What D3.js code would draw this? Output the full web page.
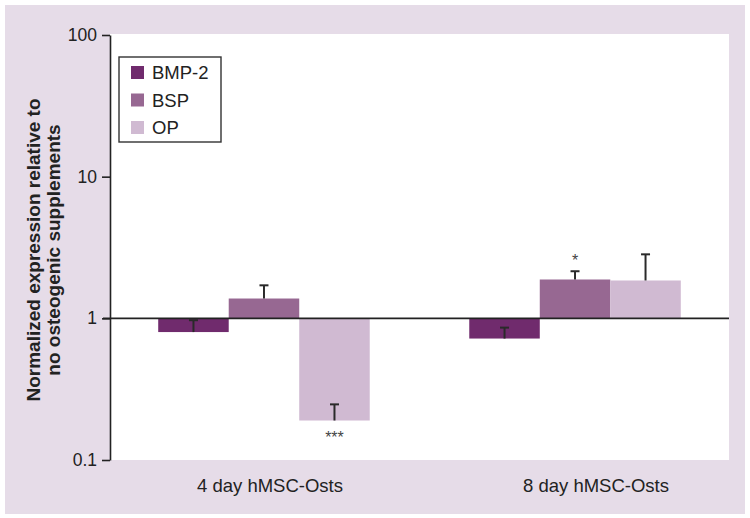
<!DOCTYPE html>
<html>
<head>
<meta charset="utf-8">
<script src="https://cdn.jsdelivr.net/npm/d3@7"></script>
<style>
  html, body { margin: 0; padding: 0; background: #ffffff; }
  svg { display: block; font-family: "Liberation Sans", Arial, Helvetica, sans-serif; }
</style>
</head>
<body>
<svg id="chart" width="750" height="518"></svg>
<script>
// ---- data ----
const categories = ["4 day hMSC-Osts", "8 day hMSC-Osts"];
const seriesNames = ["BMP-2", "BSP", "OP"];
const seriesColors = ["#702b6d", "#976892", "#d0bad2"];
const bmp2Values = [0.80, 0.72];
const bspValues = [1.38, 1.88];
const opValues = [0.19, 1.85];
const bmp2Upper = [0.97, 0.86];
const bspUpper = [1.71, 2.15];
const opUpper = [0.247, 2.83];
const bmp2Sig = ["", ""];
const bspSig = ["", "*"];
const opSig = ["***", ""];
const yTickValues = [0.1, 1, 10, 100];
const yTickLabels = ["0.1", "1", "10", "100"];
const yTitleLines = ["Normalized expression relative to", "no osteogenic supplements"];

const seriesValues = [bmp2Values, bspValues, opValues];
const seriesUpper = [bmp2Upper, bspUpper, opUpper];
const seriesSig = [bmp2Sig, bspSig, opSig];

const rows = [];
categories.forEach((c, ci) => {
  seriesNames.forEach((s, si) => {
    rows.push({cat: c, series: s, si, value: seriesValues[si][ci], upper: seriesUpper[si][ci], sig: seriesSig[si][ci]});
  });
});

// ---- layout ----
const svg = d3.select("#chart");
const plot = {left: 110, right: 729, top: 35, bottom: 460};

svg.append("rect").attr("x", 5).attr("y", 5).attr("width", 740).attr("height", 509).attr("fill", "#e6dce8");
svg.append("rect").attr("x", plot.left).attr("y", plot.top - 1).attr("width", plot.right - plot.left).attr("height", plot.bottom - plot.top + 1).attr("fill", "#ffffff");

const y = d3.scaleLog().domain([0.1, 100]).range([plot.bottom, plot.top]);
const x0 = d3.scaleBand().domain(categories).range([plot.left, plot.right]).paddingInner(0.32).paddingOuter(0.155);
const x1 = d3.scaleBand().domain(seriesNames).range([0, x0.bandwidth()]);
const labelX = d3.scalePoint().domain(categories).range([270, 596]);

// bars
const g = svg.append("g");
g.selectAll("rect.bar").data(rows).join("rect")
  .attr("class", "bar")
  .attr("x", d => x0(d.cat) + x1(d.series))
  .attr("width", x1.bandwidth())
  .attr("y", d => Math.min(y(d.value), y(1)))
  .attr("height", d => Math.abs(y(d.value) - y(1)))
  .attr("fill", d => seriesColors[d.si]);

// error bars (upper)
const capW = 9;
const cx = d => x0(d.cat) + x1(d.series) + x1.bandwidth() / 2;
const eb = g.selectAll("g.eb").data(rows).join("g").attr("class", "eb");
eb.append("line")
  .attr("x1", cx).attr("x2", cx)
  .attr("y1", d => y(d.value))
  .attr("y2", d => y(d.upper))
  .attr("stroke", "#2a2a2a").attr("stroke-width", 2);
eb.append("line")
  .attr("x1", d => cx(d) - capW / 2)
  .attr("x2", d => cx(d) + capW / 2)
  .attr("y1", d => y(d.upper))
  .attr("y2", d => y(d.upper))
  .attr("stroke", "#2a2a2a").attr("stroke-width", 2);

// significance
g.selectAll("text.sig").data(rows.filter(d => d.sig)).join("text")
  .attr("class", "sig")
  .attr("x", cx)
  .attr("y", d => d.value < 1 ? y(d.value) + 22 : y(d.upper) - 5)
  .attr("text-anchor", "middle")
  .attr("font-size", 16)
  .attr("fill", "#444")
  .text(d => d.sig);

// reference line at 1
svg.append("line")
  .attr("x1", plot.left - 7).attr("x2", plot.right)
  .attr("y1", y(1)).attr("y2", y(1))
  .attr("stroke", "#222").attr("stroke-width", 1.6);

// y axis
const yAxis = d3.axisLeft(y).tickValues(yTickValues)
  .tickFormat((d, i) => yTickLabels[i]).tickSize(8).tickSizeOuter(0).tickPadding(5);
const ya = svg.append("g").attr("transform", `translate(${plot.left},0)`).call(yAxis);
ya.select(".domain").attr("stroke", "#222").attr("stroke-width", 1.6);
ya.selectAll(".tick line").attr("stroke", "#222").attr("stroke-width", 1.6);
ya.selectAll(".tick text").attr("font-size", 17.5).attr("fill", "#222")
  .attr("font-family", "'Liberation Sans', Arial, sans-serif");

// x labels
svg.selectAll("text.xlab").data(categories).join("text")
  .attr("class", "xlab")
  .attr("x", d => labelX(d))
  .attr("y", 492)
  .attr("text-anchor", "middle")
  .attr("font-size", 18.5)
  .attr("fill", "#222")
  .text(d => d);

// y title
yTitleLines.forEach((t, i) => {
  svg.append("text")
    .attr("transform", `translate(${40 + i * 20},250) rotate(-90)`)
    .attr("font-size", 19)
    .attr("font-weight", "bold")
    .attr("fill", "#222")
    .attr("text-anchor", "middle")
    .text(t);
});

// legend
const lg = svg.append("g").attr("transform", "translate(119,57)");
lg.append("rect").attr("width", 102).attr("height", 85).attr("fill", "#fff")
  .attr("stroke", "#333").attr("stroke-width", 1.4);
seriesNames.forEach((s, i) => {
  lg.append("rect").attr("x", 12).attr("y", 9 + i * 27.5).attr("width", 13).attr("height", 13)
    .attr("fill", seriesColors[i]);
  lg.append("text").attr("x", 33).attr("y", 22 + i * 27.5)
    .attr("font-size", 18.5).attr("fill", "#222").text(s);
});
</script>
</body>
</html>
